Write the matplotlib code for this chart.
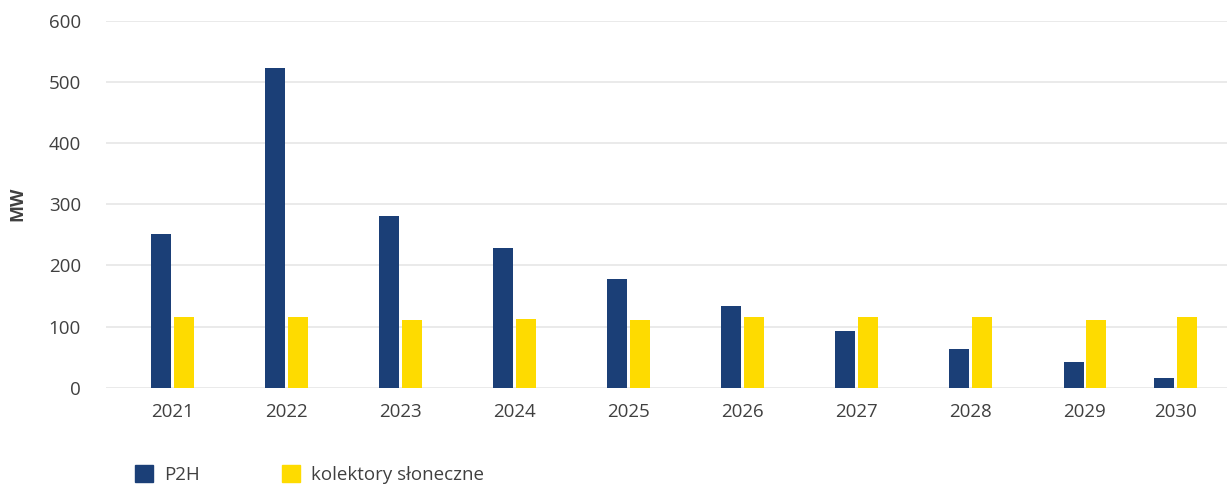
import numpy as np
import matplotlib.pyplot as plt
from matplotlib.patches import Patch

lata = ['2021', '2022', '2023', '2024', '2025', '2026', '2027', '2028', '2029', '2030']
p2h = [251, 522, 280, 228, 178, 133, 93, 63, 42, 16]
kolektory = [115, 115, 111, 112, 111, 115, 115, 115, 111, 115]

granat = '#1b3f77'
zolty = '#fedb00'
szary_tekst = '#404040'

plt.rcParams['font.family'] = ['Open Sans', 'DejaVu Sans']

fig = plt.figure(figsize=(12.27, 4.84), dpi=100)
ax = fig.add_axes([106 / 1227, 1 - 387.7 / 484, 1 - 106 / 1227, 367 / 484])

# ostatnia kategoria jest dosunięta bliżej poprzedniej
x = np.arange(len(lata), dtype=float)
x[-1] -= 0.21
szer = 0.175
odstep = 0.013

ax.bar(x - szer / 2 - odstep, p2h, width=szer, color=granat, zorder=3)
ax.bar(x + szer / 2 + odstep, kolektory, width=szer, color=zolty, zorder=3)

ax.set_ylim(0, 600)
ax.set_yticks(np.arange(0, 601, 100))
ax.set_xlim(-0.583, 9.245)
ax.set_xticks(x)
ax.set_xticklabels(lata)
ax.grid(axis='y', color='#e8e8e8', linewidth=1.3, zorder=0)
for s in ax.spines.values():
    s.set_visible(False)
ax.tick_params(axis='both', length=0, labelsize=13.5, colors=szary_tekst)
ax.tick_params(axis='x', pad=11)
ax.tick_params(axis='y', pad=18)
ax.set_ylabel('MW', fontsize=13, fontweight='bold', color=szary_tekst, labelpad=16)

uchwyty = [Patch(color=granat, label='P2H'), Patch(color=zolty, label='kolektory słoneczne')]
fig.legend(handles=uchwyty, loc='upper left', bbox_to_anchor=(118 / 1227, 1 - 448 / 484),
           ncol=2, frameon=False, fontsize=13.5, handlelength=0.95, handleheight=1.0,
           handletextpad=0.6, columnspacing=4.4, labelcolor=szary_tekst)

fig.savefig('out.png', dpi=100)
